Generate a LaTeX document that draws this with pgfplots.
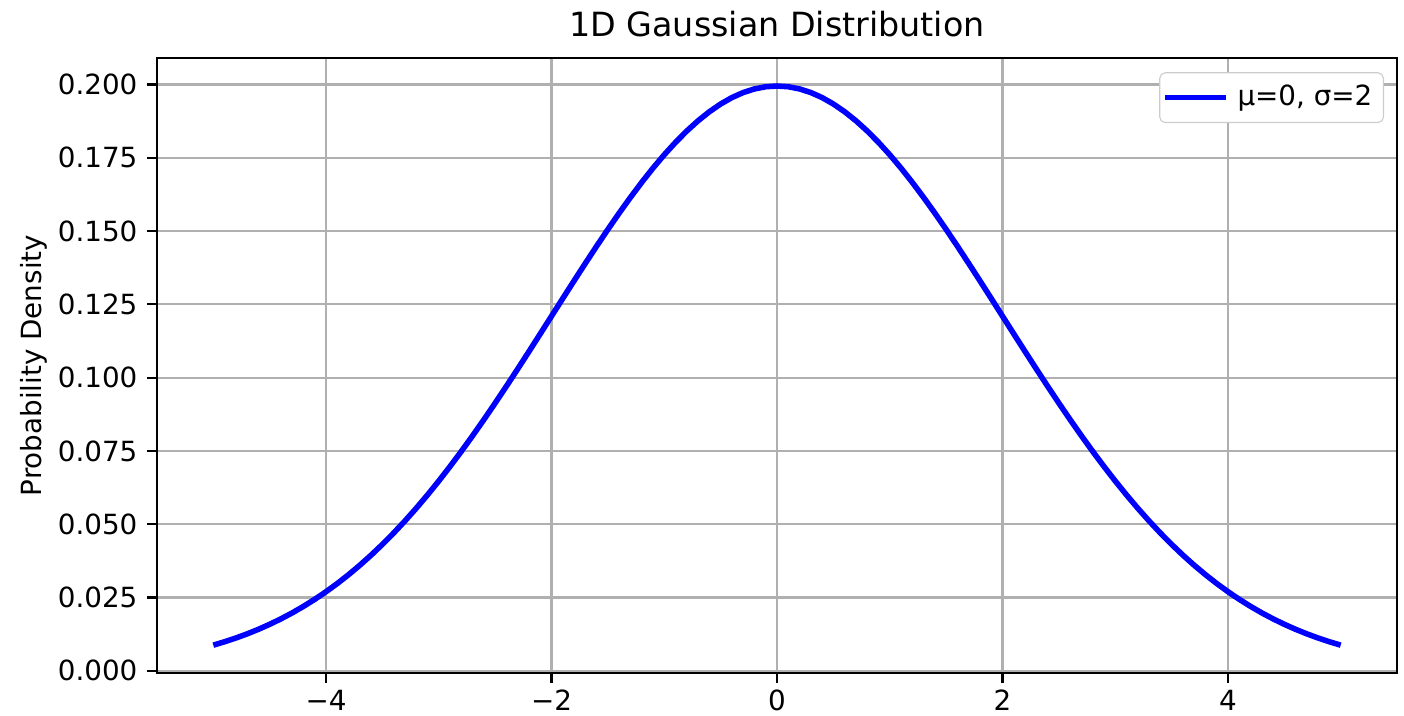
\documentclass[border=0pt]{standalone}
\usepackage{fontspec}
\setmainfont{DejaVu Sans}
\usepackage{pgfplots}
\pgfplotsset{compat=1.18}
\begin{document}
\begin{tikzpicture}[x=1pt,y=1pt]
\begin{axis}[
  name=ax,
  scale only axis,
  width=446.4pt, height=221.4pt,
  xmin=-5.5, xmax=5.5,
  ymin=-0.000771, ymax=0.209006,
  xtick={-4,-2,0,2,4},
  xticklabels={−4,−2,0,2,4},
  ytick={0,0.025,0.05,0.075,0.1,0.125,0.15,0.175,0.2},
  yticklabel style={/pgf/number format/.cd, fixed, fixed zerofill, precision=3, assume math mode=true},
  tick label style={font=\fontsize{10}{12}\selectfont},
  xticklabel style={yshift=1pt},
  tick align=outside, tick pos=left,
  major tick length=3.5pt,
  every tick/.style={black, line width=0.8pt},
  axis line style={line width=0.8pt},
  grid=major,
  grid style={color={rgb,255:red,176;green,176;blue,176}, line width=0.8pt},
  title={1D Gaussian Distribution},
  title style={font=\fontsize{12}{14}\selectfont, yshift=-2pt},
  ylabel={Probability Density},
  ylabel style={font=\fontsize{10}{12}\selectfont, yshift=-3pt},
  legend style={font=\fontsize{10}{12}\selectfont, draw={rgb,255:red,204;green,204;blue,204}, rounded corners=2pt, inner xsep=1pt, inner ysep=2pt, row sep=0pt, at={(0.9895,0.977)}, anchor=north east, nodes={inner xsep=3pt, inner ysep=2.5pt}},
  legend cell align=left,
  legend image code/.code={\draw[#1] (0pt,0pt) -- (22pt,0pt);},
]
\addplot[blue, line width=2pt, line join=round] coordinates {
(-5.0,0.008764) (-4.9,0.009919) (-4.8,0.011197) (-4.7,0.012608) (-4.6,0.014162)
(-4.5,0.015870) (-4.4,0.017737) (-4.3,0.019775) (-4.2,0.021992) (-4.1,0.024398)
(-4.0,0.026995) (-3.9,0.029798) (-3.8,0.032808) (-3.7,0.036033) (-3.6,0.039475)
(-3.5,0.043139) (-3.4,0.047025) (-3.3,0.051133) (-3.2,0.055461) (-3.1,0.060005)
(-3.0,0.064759) (-2.9,0.069717) (-2.8,0.074864) (-2.7,0.080192) (-2.6,0.085685)
(-2.5,0.091325) (-2.4,0.097093) (-2.3,0.102968) (-2.2,0.108926) (-2.1,0.114942)
(-2.0,0.120985) (-1.9,0.127030) (-1.8,0.133043) (-1.7,0.138993) (-1.6,0.144846)
(-1.5,0.150569) (-1.4,0.156127) (-1.3,0.161486) (-1.2,0.166612) (-1.1,0.171472)
(-1.0,0.176033) (-0.9,0.180264) (-0.8,0.184135) (-0.7,0.187620) (-0.6,0.190694)
(-0.5,0.193334) (-0.4,0.195521) (-0.3,0.197240) (-0.2,0.198476) (-0.1,0.199222)
(0.0,0.199471)
(0.1,0.199222) (0.2,0.198476) (0.3,0.197240) (0.4,0.195521) (0.5,0.193334)
(0.6,0.190694) (0.7,0.187620) (0.8,0.184135) (0.9,0.180264) (1.0,0.176033)
(1.1,0.171472) (1.2,0.166612) (1.3,0.161486) (1.4,0.156127) (1.5,0.150569)
(1.6,0.144846) (1.7,0.138993) (1.8,0.133043) (1.9,0.127030) (2.0,0.120985)
(2.1,0.114942) (2.2,0.108926) (2.3,0.102968) (2.4,0.097093) (2.5,0.091325)
(2.6,0.085685) (2.7,0.080192) (2.8,0.074864) (2.9,0.069717) (3.0,0.064759)
(3.1,0.060005) (3.2,0.055461) (3.3,0.051133) (3.4,0.047025) (3.5,0.043139)
(3.6,0.039475) (3.7,0.036033) (3.8,0.032808) (3.9,0.029798) (4.0,0.026995)
(4.1,0.024398) (4.2,0.021992) (4.3,0.019775) (4.4,0.017737) (4.5,0.015870)
(4.6,0.014162) (4.7,0.012608) (4.8,0.011197) (4.9,0.009919) (5.0,0.008764)
};
\addlegendentry{μ=0, σ=2}
\end{axis}
\pgfresetboundingbox
\path[use as bounding box] ([shift={(-56.5pt,-15.1pt)}]ax.south west) rectangle ([shift={(2.5pt,20.9pt)}]ax.north east);
\end{tikzpicture}
\end{document}
